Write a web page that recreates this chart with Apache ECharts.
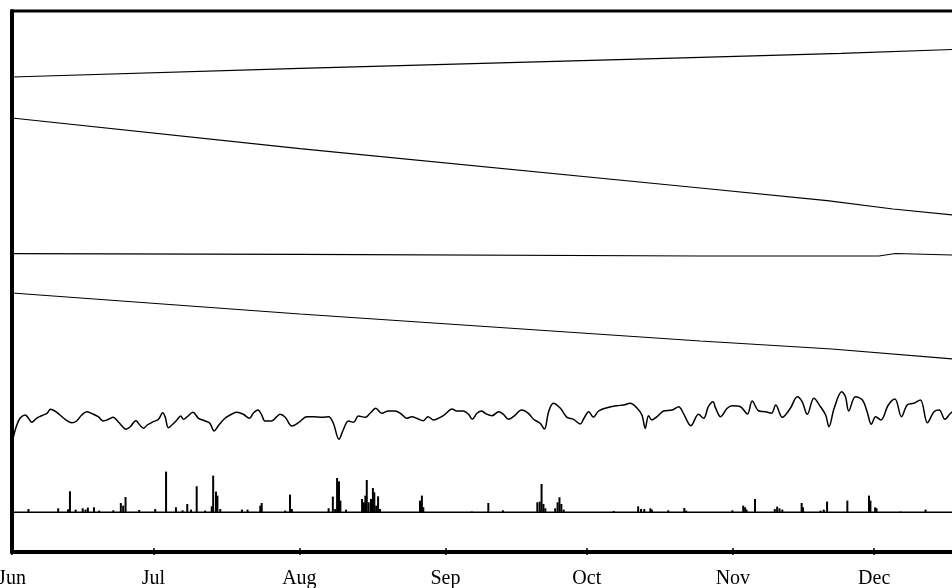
<!DOCTYPE html>
<html>
<head>
<meta charset="utf-8">
<script src="https://cdn.jsdelivr.net/npm/echarts@6/dist/echarts.min.js"></script>
<style>
  html, body { margin: 0; padding: 0; background: #fff; }
  #main { width: 952px; height: 588px; }
</style>
</head>
<body>
<div id="main"></div>
<script>
// x = days since 1 June, y = arbitrary stacked-trace units
var monthStarts = [0, 30, 61, 92, 122, 153, 183];
var monthNames = ['Jun', 'Jul', 'Aug', 'Sep', 'Oct', 'Nov', 'Dec'];

var trace1 = [[0, 47.4], [61.1, 48.27], [146.1, 49.37], [176, 49.77], [199.6, 50.15]];
var trace2 = [[0, 43.3], [61.1, 40.23], [146.1, 36.3], [173, 35.03], [187, 34.2], [199.6, 33.6]];
var trace3 = [[0, 29.73], [61.1, 29.67], [146.1, 29.5], [184, 29.5], [187.5, 29.75], [199.6, 29.6]];
var trace4 = [[0, 25.8], [61.1, 23.7], [146.1, 21.0], [174, 20.2], [199.6, 19.2]];

var wiggle = [
  [0.3, 11.43], [0.9, 12.43], [1.7, 13.27], [2.8, 13.6], [3.5, 13.27], [4.2, 12.87], [5.2, 13.27],
  [6.3, 13.53], [7.4, 13.77], [8.2, 14.17], [9.1, 14.0], [10.2, 13.6], [11.3, 13.17], [12.7, 12.83],
  [13.7, 13.0], [14.8, 13.6], [15.9, 13.93], [17.3, 13.67], [18.3, 13.43], [19.4, 13.0], [20.5, 13.17],
  [21.5, 13.37], [22.2, 13.1], [23.3, 12.53], [24.2, 12.17], [25.1, 12.43], [26.3, 13.03], [27.0, 12.67],
  [27.9, 12.27], [28.7, 12.6], [30.0, 12.93], [31.1, 13.17], [32.0, 13.83], [32.5, 13.43], [33.2, 12.33],
  [34.1, 12.67], [35.0, 13.1], [35.8, 13.5], [36.4, 13.17], [37.2, 13.43], [38.4, 13.87], [39.6, 13.27],
  [41.0, 13.0], [42.0, 12.77], [42.9, 12.0], [43.8, 12.53], [45.2, 13.27], [46.7, 13.7], [47.7, 13.87],
  [49.1, 13.67], [50.4, 13.27], [51.2, 13.77], [52.2, 14.1], [53.0, 13.6], [53.7, 13.0], [55.1, 13.0],
  [56.2, 13.43], [56.9, 13.67], [58.0, 13.37], [59.4, 12.5], [60.8, 12.83], [62.6, 13.43], [64.0, 13.43],
  [65.8, 13.37], [67.2, 13.43], [68.2, 12.77], [69.4, 11.17], [70.3, 12.1], [71.4, 13.0], [72.5, 12.87],
  [73.5, 13.5], [75.0, 13.37], [76.0, 13.77], [77.2, 14.27], [78.5, 13.77], [79.9, 14.0], [81.3, 14.0],
  [82.7, 13.67], [83.8, 13.27], [84.9, 13.43], [85.9, 13.27], [87.3, 13.03], [88.3, 13.43], [89.5, 13.1],
  [90.9, 13.37], [91.9, 13.67], [93.4, 14.2], [94.4, 14.0], [95.8, 14.0], [96.9, 13.67], [97.7, 13.17],
  [98.7, 13.77], [99.7, 14.0], [100.4, 13.77], [101.9, 13.53], [103.3, 13.93], [104.3, 13.67],
  [105.4, 13.17], [106.4, 13.43], [108.2, 14.1], [109.6, 13.77], [110.7, 13.17], [112.1, 12.77],
  [113.0, 12.2], [113.9, 13.93], [114.9, 14.77], [116.4, 14.27], [117.8, 13.37], [119.2, 13.17],
  [120.6, 12.7], [121.4, 13.27], [122.4, 13.93], [123.4, 13.37], [124.5, 14.0], [126.3, 14.33],
  [128.4, 14.53], [129.8, 14.6], [131.2, 14.77], [132.6, 14.33], [133.7, 13.6], [134.4, 12.27],
  [135.1, 13.53], [135.8, 13.1], [136.9, 13.43], [138.3, 14.0], [140.1, 14.1], [141.5, 14.43],
  [142.5, 13.77], [144.1, 12.53], [145.7, 13.67], [146.8, 13.27], [147.8, 14.43], [148.8, 14.93],
  [149.3, 14.33], [150.4, 13.43], [151.8, 14.27], [152.9, 14.53], [154.6, 14.43], [156.1, 13.7],
  [157.1, 15.0], [158.5, 14.0], [159.9, 13.93], [161.2, 13.77], [162.1, 14.6], [163.5, 13.37],
  [165.2, 14.27], [166.7, 15.43], [167.7, 14.93], [168.8, 13.67], [170.2, 15.27], [171.6, 14.43],
  [172.7, 13.6], [173.4, 12.43], [174.5, 14.27], [176.1, 15.93], [176.9, 15.43], [177.6, 14.0],
  [179.0, 15.43], [180.5, 15.1], [181.5, 13.93], [182.4, 12.67], [183.3, 13.43], [184.4, 13.1],
  [186.0, 14.6], [187.4, 15.2], [188.8, 13.43], [190.0, 14.6], [191.4, 14.77], [192.8, 15.1],
  [194.3, 12.83], [195.7, 13.93], [196.8, 14.1], [198.0, 13.17], [199.2, 13.77], [200.5, 14.2]
];

var rainBase = 3.87;
var rain = [
  [3.5, 0.33], [9.8, 0.4], [11.9, 0.3], [12.3, 2.1], [13.5, 0.27], [15.0, 0.4], [15.6, 0.27], [16.1, 0.47],
  [17.4, 0.5], [18.5, 0.17], [21.5, 0.2], [23.1, 0.93], [23.6, 0.67], [24.1, 1.53], [27.0, 0.23],
  [30.4, 0.33], [32.7, 4.07], [34.8, 0.5], [36.2, 0.2], [37.2, 0.83], [38.0, 0.27], [39.2, 2.6],
  [41.0, 0.17], [42.4, 0.6], [42.7, 3.67], [43.3, 2.07], [43.6, 1.67], [44.2, 0.33], [48.8, 0.27],
  [50.0, 0.27], [52.7, 0.67], [53.0, 0.93], [58.0, 0.17], [59.0, 1.77], [59.4, 0.33], [67.2, 0.4],
  [68.1, 1.57], [68.6, 0.33], [69.0, 3.43], [69.4, 3.1], [69.7, 1.17], [70.9, 0.27], [74.3, 1.33],
  [74.7, 1.0], [75.0, 1.67], [75.3, 3.23], [75.7, 1.0], [76.2, 1.33], [76.6, 2.43], [76.9, 2.0],
  [77.3, 0.67], [77.7, 1.6], [78.1, 0.33], [86.6, 1.17], [87.0, 1.67], [87.3, 0.5], [97.6, 0.07],
  [101.1, 0.93], [104.2, 0.2], [111.5, 1.0], [112.0, 1.07], [112.4, 2.83], [112.8, 0.83], [113.2, 0.4],
  [115.3, 0.4], [115.8, 1.0], [116.2, 1.5], [116.6, 0.83], [117.1, 0.27], [127.7, 0.13], [132.9, 0.6],
  [133.5, 0.33], [134.2, 0.33], [135.5, 0.4], [135.8, 0.27], [139.3, 0.2], [142.7, 0.43], [143.1, 0.17],
  [152.9, 0.2], [155.2, 0.67], [155.6, 0.5], [155.9, 0.27], [157.7, 1.33], [161.9, 0.33], [162.4, 0.57],
  [162.9, 0.4], [163.5, 0.27], [167.6, 0.93], [167.9, 0.5], [171.6, 0.17], [172.3, 0.27], [173.0, 1.07],
  [177.3, 1.17], [181.9, 1.67], [182.2, 1.17], [183.2, 0.5], [183.5, 0.4], [188.6, 0.07], [193.9, 0.27]
];

var xMax = 201;
var yMax = 54;

var myChart = echarts.init(document.getElementById('main'), null, { renderer: 'canvas' });

function monthLabel(v) {
  var i = monthStarts.indexOf(v);
  return i >= 0 ? monthNames[i] : '';
}

function traceLine(data, width, smooth) {
  return {
    type: 'line',
    data: data,
    symbol: 'none',
    smooth: smooth || false,
    silent: true,
    lineStyle: { color: '#000', width: width },
    z: 3
  };
}

var option = {
  animation: false,
  backgroundColor: '#fff',
  grid: {
    left: 12, top: 11, width: 947, height: 541,
    outerBoundsMode: 'none',
    containLabel: false,
    show: true, borderColor: '#000', borderWidth: 3, backgroundColor: 'transparent'
  },
  xAxis: [{
    type: 'value', min: 0, max: xMax, position: 'bottom',
    splitLine: { show: false },
    axisLine: { show: true, onZero: false, lineStyle: { color: '#000', width: 4 } },
    axisTick: { show: true, inside: true, length: 4, customValues: monthStarts, lineStyle: { color: '#000', width: 1.5 } },
    axisLabel: {
      customValues: monthStarts, formatter: monthLabel, margin: 17,
      color: '#000', fontFamily: 'Liberation Serif', fontSize: 20
    }
  }, {
    type: 'value', min: 0, max: xMax, position: 'top',
    splitLine: { show: false },
    axisLine: { show: false },
    axisTick: { show: true, inside: true, length: 4, customValues: monthStarts, lineStyle: { color: '#000', width: 1.5 } },
    axisLabel: { show: false }
  }],
  yAxis: [{
    type: 'value', min: -0.1, max: yMax,
    splitLine: { show: false },
    axisLine: { show: true, onZero: false, lineStyle: { color: '#000', width: 4 } },
    axisTick: { show: false },
    axisLabel: { show: false }
  }, {
    type: 'value', min: -0.1 - rainBase, max: yMax - rainBase, show: false,
    splitLine: { show: false }
  }],
  series: [
    traceLine(trace1, 1.2),
    traceLine(trace2, 1.2),
    traceLine(trace3, 1.2),
    traceLine(trace4, 1.2),
    traceLine(wiggle, 1.5, 0.35),
    traceLine([[0, rainBase], [xMax, rainBase]], 1.5),
    {
      type: 'bar',
      yAxisIndex: 1,
      data: rain,
      barWidth: 2,
      silent: true,
      itemStyle: { color: '#000' },
      z: 4
    }
  ]
};

myChart.setOption(option);
</script>
</body>
</html>
